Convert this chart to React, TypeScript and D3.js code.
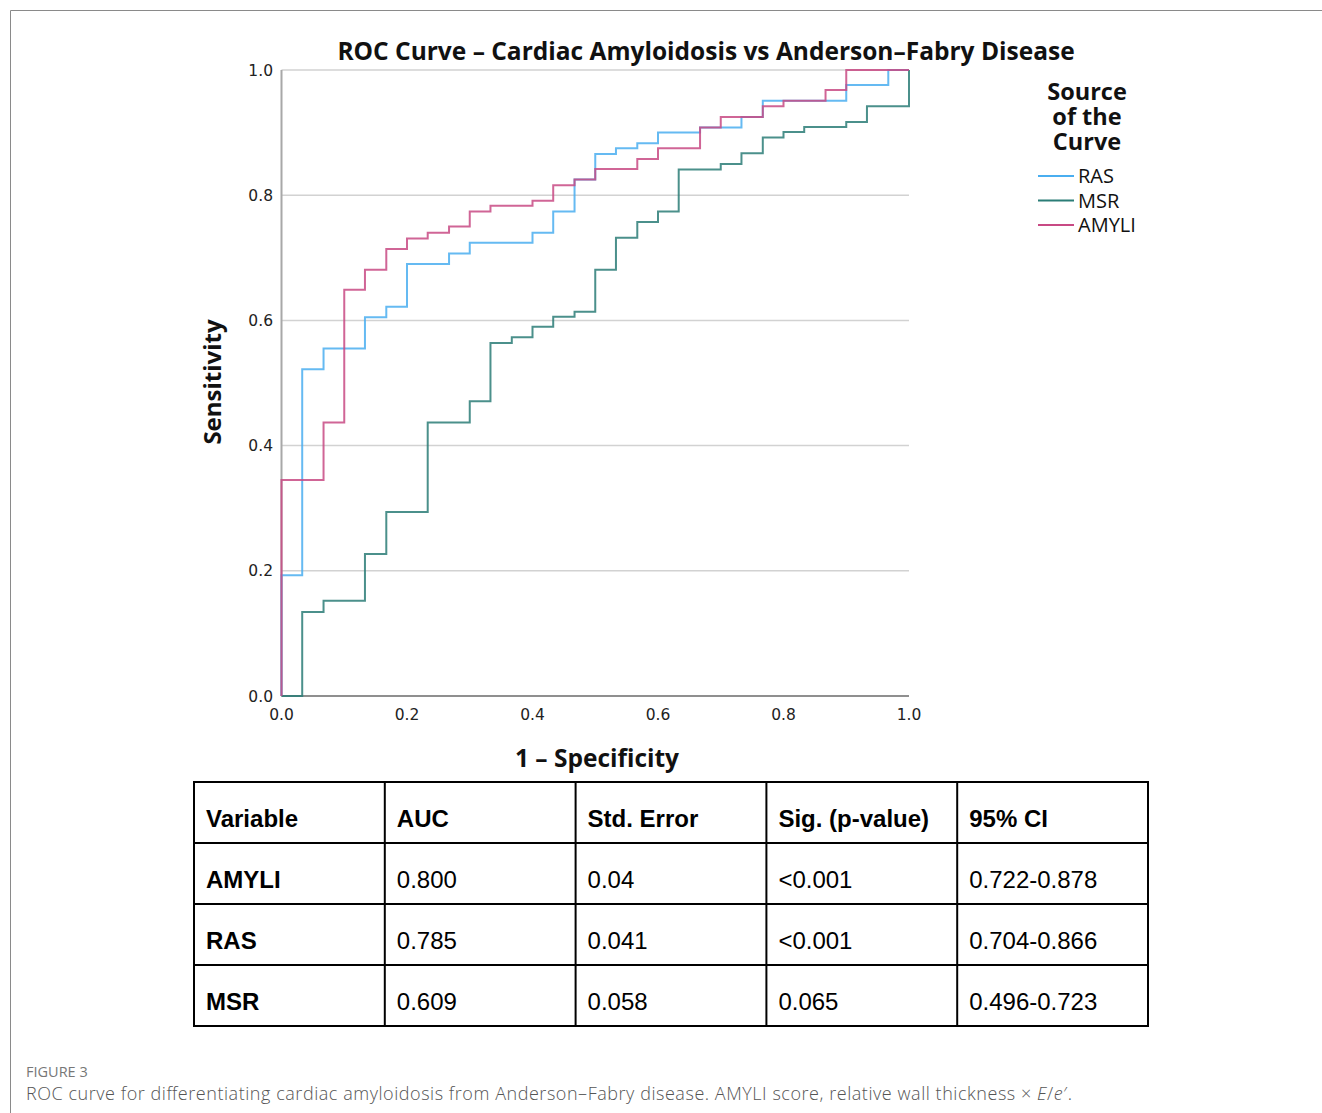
import React from "react";
import * as d3 from "d3";

const xTicks = [0, 0.2, 0.4, 0.6, 0.8, 1.0];
const yTicks = [0, 0.2, 0.4, 0.6, 0.8, 1.0];

// ROC step corners: 1 - specificity, sensitivity
const rasFpr = [0, 0, 0.033, 0.067, 0.133, 0.167, 0.2, 0.267, 0.3, 0.4, 0.433, 0.467, 0.5, 0.533, 0.567, 0.6, 0.667, 0.733, 0.767, 0.9, 0.967, 1.0];
const rasSens = [0, 0.193, 0.522, 0.555, 0.605, 0.622, 0.69, 0.707, 0.724, 0.74, 0.774, 0.825, 0.866, 0.875, 0.883, 0.9, 0.908, 0.925, 0.951, 0.976, 1.0, 1.0];

const msrFpr = [0, 0.033, 0.067, 0.133, 0.167, 0.233, 0.3, 0.333, 0.367, 0.4, 0.433, 0.467, 0.5, 0.533, 0.567, 0.6, 0.633, 0.7, 0.733, 0.767, 0.8, 0.833, 0.9, 0.933, 1.0];
const msrSens = [0, 0.134, 0.152, 0.227, 0.294, 0.437, 0.471, 0.564, 0.573, 0.59, 0.606, 0.614, 0.681, 0.732, 0.757, 0.774, 0.841, 0.85, 0.867, 0.892, 0.901, 0.909, 0.917, 0.942, 1.0];

const amyliFpr = [0, 0, 0.067, 0.1, 0.133, 0.167, 0.2, 0.233, 0.267, 0.3, 0.333, 0.4, 0.433, 0.467, 0.5, 0.567, 0.6, 0.667, 0.7, 0.767, 0.8, 0.867, 0.9, 1.0];
const amyliSens = [0, 0.345, 0.437, 0.649, 0.681, 0.714, 0.731, 0.74, 0.75, 0.774, 0.783, 0.791, 0.816, 0.825, 0.842, 0.858, 0.875, 0.908, 0.925, 0.942, 0.951, 0.968, 1.0, 1.0];

const seriesNames = ["RAS", "MSR", "AMYLI"];
const seriesColors = ["#4aaef0", "#2b7d77", "#c84a84"];

const tableHeaders = ["Variable", "AUC", "Std. Error", "Sig. (p-value)", "95% CI"];
const tableVariables = ["AMYLI", "RAS", "MSR"];
const tableAuc = ["0.800", "0.785", "0.609"];
const tableSe = ["0.04", "0.041", "0.058"];
const tableSig = ["<0.001", "<0.001", "0.065"];
const tableCi = ["0.722-0.878", "0.704-0.866", "0.496-0.723"];

export default function App() {
  const x = d3.scaleLinear().domain([0, 1]).range([281.5, 909]);
  const y = d3.scaleLinear().domain([0, 1]).range([696, 70]);
  const line = d3
    .line<[number, number]>()
    .x((d) => x(d[0]))
    .y((d) => y(d[1]))
    .curve(d3.curveStepAfter);

  const series = [
    { f: rasFpr, s: rasSens },
    { f: msrFpr, s: msrSens },
    { f: amyliFpr, s: amyliSens },
  ].map((d, i) => ({
    name: seriesNames[i],
    color: seriesColors[i],
    pts: d.f.map((v, j) => [v, d.s[j]] as [number, number]),
  }));

  const chartFont = "'Open Sans', 'DejaVu Sans', sans-serif";
  const tickFont = "'DejaVu Sans', sans-serif";

  // table layout
  const colX = d3.scaleLinear().domain([0, 5]).range([194, 1148]);
  const rowY = d3.scaleLinear().domain([0, 4]).range([782, 1026]);
  const rows = tableVariables.map((v, i) => [v, tableAuc[i], tableSe[i], tableSig[i], tableCi[i]]);
  const allRows = [tableHeaders, ...rows];

  return (
    <svg
      width={1322}
      height={1113}
      style={{ position: "absolute", left: 0, top: 0, background: "#fff" }}
    >
      <rect x={0} y={0} width={1322} height={1113} fill="#fff" />
      {/* frame */}
      <line x1={10.5} y1={10.5} x2={1322} y2={10.5} stroke="#8a8a8a" strokeWidth={1} />
      <line x1={10.5} y1={10.5} x2={10.5} y2={1113} stroke="#8a8a8a" strokeWidth={1} />

      {/* title */}
      <text x={706} y={60} textAnchor="middle" fontFamily={chartFont} fontWeight={700} fontSize={24.5} fill="#111">
        ROC Curve – Cardiac Amyloidosis vs Anderson–Fabry Disease
      </text>

      {/* gridlines */}
      {yTicks.filter((t) => t > 0).map((t) => (
        <line key={t} x1={x(0)} x2={x(1)} y1={y(t)} y2={y(t)} stroke="#d2d2d2" strokeWidth={1.5} />
      ))}
      {/* axes */}
      <line x1={x(0)} x2={x(0)} y1={y(1)} y2={y(0)} stroke="#a8a8a8" strokeWidth={2} />
      <line x1={x(0)} x2={x(1)} y1={y(0)} y2={y(0)} stroke="#6a6a6a" strokeWidth={1.5} />

      {yTicks.map((t) => (
        <text key={t} x={273} y={y(t) + 5.5} textAnchor="end" fontFamily={tickFont} fontSize={15.5} fill="#222">
          {d3.format(".1f")(t)}
        </text>
      ))}
      {xTicks.map((t) => (
        <text key={t} x={x(t)} y={720} textAnchor="middle" fontFamily={tickFont} fontSize={15.5} fill="#222">
          {d3.format(".1f")(t)}
        </text>
      ))}

      <text
        transform={`translate(221,382) rotate(-90)`}
        textAnchor="middle"
        fontFamily={chartFont}
        fontWeight={700}
        fontSize={24}
        fill="#111"
      >
        Sensitivity
      </text>
      <text x={597} y={767} textAnchor="middle" fontFamily={chartFont} fontWeight={700} fontSize={24.5} fill="#111">
        1 – Specificity
      </text>

      {/* curves */}
      {series.map((s) => (
        <path key={s.name} d={line(s.pts) || ""} fill="none" stroke={s.color} strokeWidth={2} strokeOpacity={0.85} />
      ))}

      {/* legend */}
      <text textAnchor="middle" fontFamily={chartFont} fontWeight={700} fontSize={23.5} fill="#111">
        {["Source", "of the", "Curve"].map((t, i) => (
          <tspan key={t} x={1087} y={100 + i * 25}>
            {t}
          </tspan>
        ))}
      </text>
      {series.map((s, i) => (
        <g key={s.name} transform={`translate(1038,${176 + i * 24.5})`}>
          <line x1={0} x2={36} y1={0} y2={0} stroke={s.color} strokeWidth={2} />
          <text x={40} y={7} fontFamily={chartFont} fontSize={20} fill="#111">
            {s.name}
          </text>
        </g>
      ))}

      {/* table */}
      {allRows.map((r, ri) =>
        r.map((c, ci) => (
          <text
            key={`${ri}-${ci}`}
            x={colX(ci) + 12}
            y={rowY(ri) + 45}
            fontFamily="'Liberation Sans', Arial, sans-serif"
            fontSize={24}
            fontWeight={ri === 0 || ci === 0 ? 700 : 400}
            fill="#000"
          >
            {c}
          </text>
        ))
      )}
      {d3.range(6).map((i) => (
        <line key={`c${i}`} x1={colX(i)} x2={colX(i)} y1={rowY(0)} y2={rowY(4)} stroke="#000" strokeWidth={2} />
      ))}
      {d3.range(5).map((i) => (
        <line key={`r${i}`} x1={colX(0) - 1} x2={colX(5) + 1} y1={rowY(i)} y2={rowY(i)} stroke="#000" strokeWidth={2} />
      ))}

      {/* caption */}
      <text x={26} y={1077} fontFamily={chartFont} fontSize={14.5} fill="#777">
        FIGURE 3
      </text>
      <text x={26} y={1100} fontFamily={chartFont} fontSize={18} fontWeight={300} fill="#555" textLength={1046} lengthAdjust="spacing">
        ROC curve for differentiating cardiac amyloidosis from Anderson–Fabry disease. AMYLI score, relative wall thickness ×{" "}
        <tspan fontStyle="italic">E</tspan>/<tspan fontStyle="italic">e</tspan>′.
      </text>
    </svg>
  );
}
